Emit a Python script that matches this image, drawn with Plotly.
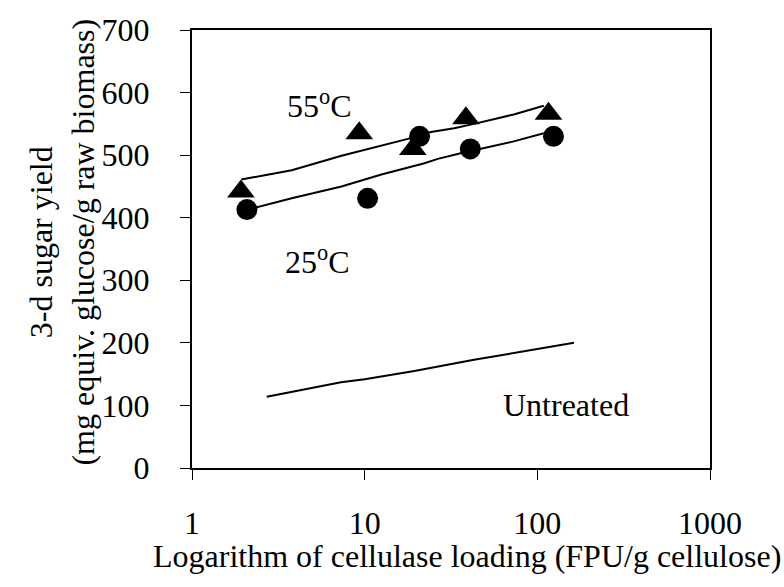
import plotly.graph_objects as go

# Measured data (55 °C = triangles, 25 °C = circles)
x_55 = [1.92, 9.3, 19.0, 38.6, 116]
y_55 = [442, 535, 510, 559, 566]
x_25 = [2.08, 10.4, 20.8, 40.9, 124]
y_25 = [413, 431, 530, 510, 530]

# Model curves
x_fit55 = [1.93, 3.78, 7.34, 9.57, 17.8, 24.2, 33, 43, 73, 109]
y_fit55 = [461, 476, 499, 507, 526, 537, 543, 550, 565, 579]
x_fit25 = [2.1, 3.78, 7.34, 9.57, 12.5, 22.2, 26.5, 36, 47, 73, 109]
y_fit25 = [413, 431, 450, 459, 469, 487, 494, 503, 510, 522, 535]
x_untr = [2.71, 7.3, 10, 19.4, 43, 163]
y_untr = [114, 137, 142, 155, 173, 200]

x_ticks = [1, 10, 100, 1000]
y_ticks = [0, 100, 200, 300, 400, 500, 600, 700]

FONT = "Liberation Serif"
FS = 32

fig = go.Figure()
line_style = dict(color="black", width=2)
fig.add_trace(go.Scatter(x=x_fit55, y=y_fit55, mode="lines", line=line_style))
fig.add_trace(go.Scatter(x=x_fit25, y=y_fit25, mode="lines", line=line_style))
fig.add_trace(go.Scatter(x=x_untr, y=y_untr, mode="lines", line=line_style))
fig.add_trace(go.Scatter(x=x_55, y=y_55, mode="markers",
                         marker=dict(symbol="triangle-up", size=24, color="black")))
fig.add_trace(go.Scatter(x=x_25, y=y_25, mode="markers",
                         marker=dict(symbol="circle", size=21, color="black")))

axis_common = dict(showline=True, linecolor="black", linewidth=2, mirror=True,
                   ticks="outside", ticklen=10, tickcolor="black", tickwidth=1,
                   showgrid=False, zeroline=False,
                   tickfont=dict(family=FONT, size=FS, color="black"))

fig.update_xaxes(type="log", range=[0, 3], tickvals=x_ticks,
                 ticktext=[str(v) for v in x_ticks], ticklabelstandoff=16,
                 **axis_common)
fig.update_yaxes(range=[0, 700], tickvals=y_ticks, ticklabelstandoff=24,
                 **axis_common)

W, H = 784, 587
pl, pr, pt, pb = 192, 710, 25, 468
def px_to_paper(px, py):
    return (px - pl) / (pr - pl), (pb - py) / (pb - pt)

txt_font = dict(family=FONT, size=FS, color="black")
xt, yt = px_to_paper(467, 557)
yx, yy = px_to_paper(62, 240)
annotations = [
    dict(x=0.738, y=581, text="55<sup>o</sup>C", showarrow=False, xref="x", yref="y",
         font=txt_font),
    dict(x=0.724, y=332, text="25<sup>o</sup>C", showarrow=False, xref="x", yref="y",
         font=txt_font),
    dict(x=2.164, y=100, text="Untreated", showarrow=False, xref="x", yref="y",
         font=txt_font),
    dict(x=xt, y=yt, text="Logarithm of cellulase loading (FPU/g cellulose)",
         showarrow=False, xref="paper", yref="paper", xanchor="center",
         yanchor="middle", font=txt_font),
    dict(x=yx, y=yy, xref="paper", yref="paper", showarrow=False,
         xanchor="center", yanchor="middle",
         text="3-d sugar yield<br>(mg equiv. glucose/g raw biomass)",
         textangle=-90, font=txt_font),
]

fig.update_layout(
    width=W, height=H,
    margin=dict(l=pl, r=W - pr, t=pt, b=H - pb),
    paper_bgcolor="white", plot_bgcolor="white",
    showlegend=False,
    font=txt_font,
    annotations=annotations,
)

fig.write_html("out.html", config={"displayModeBar": False},
               post_script="document.body.style.margin='0px';")
